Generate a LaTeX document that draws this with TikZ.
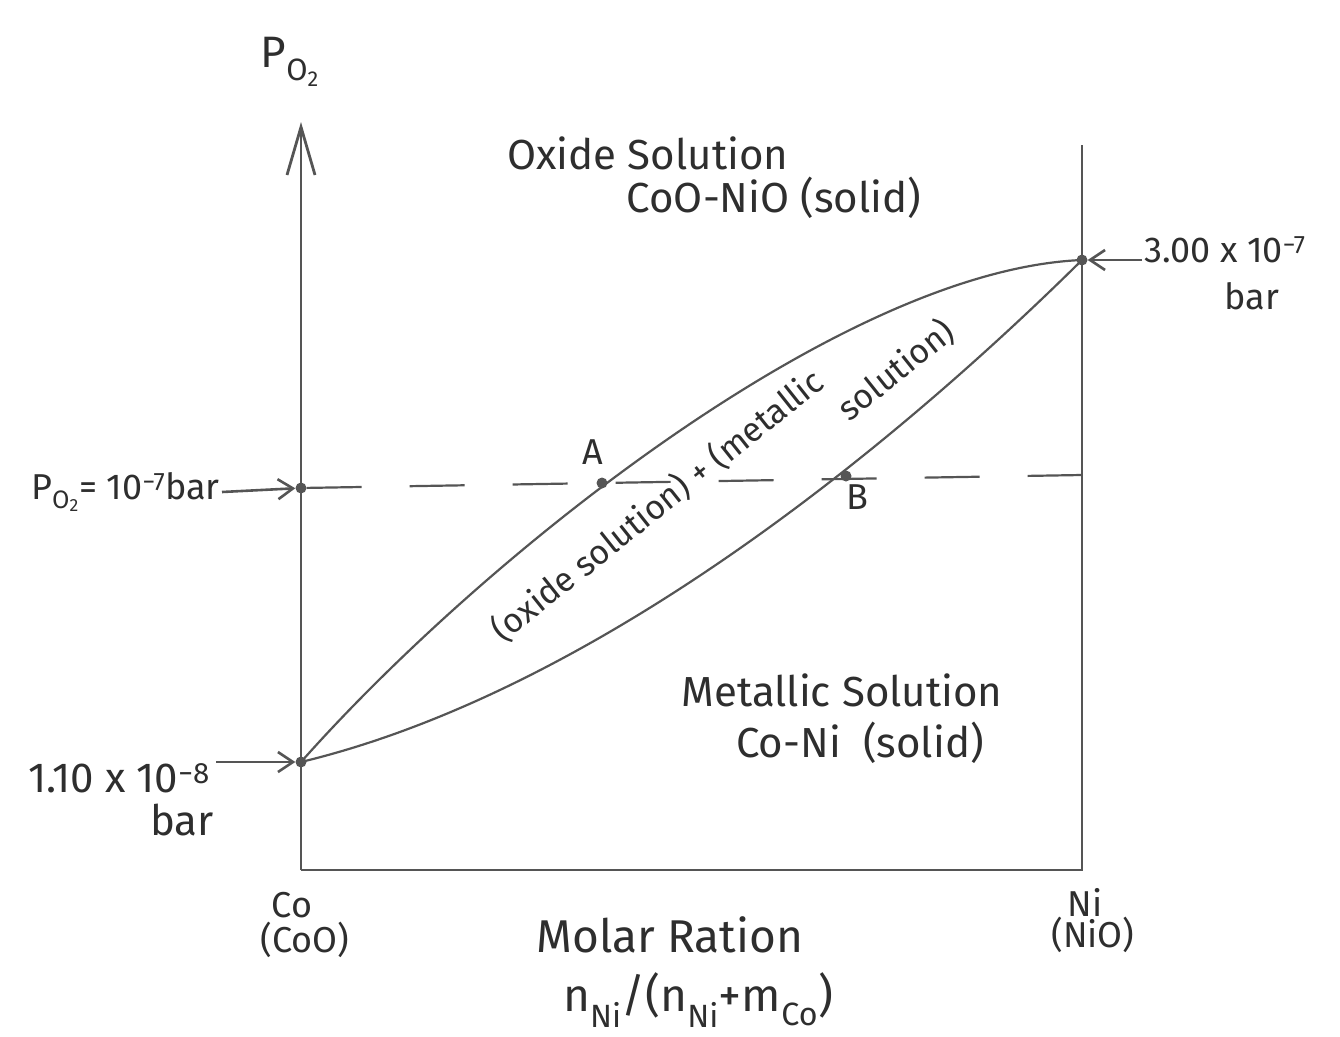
\documentclass[tikz,border=0pt]{standalone}
\usepackage{fontspec}
\setmainfont{Fira Sans}
\usetikzlibrary{arrows.meta, positioning}
\definecolor{pencil}{HTML}{555555}
\definecolor{lead}{HTML}{2E2E2E}
\tikzset{
  axisln/.style={draw=pencil, line width=2.8pt},
  curveln/.style={draw=pencil, line width=2.2pt},
  tieline/.style={draw=pencil, line width=2.2pt, dash pattern=on 55pt off 48pt},
  dotpt/.style={circle, fill=pencil, inner sep=0pt, minimum size=11pt},
  lbl/.style={text=lead, font=\fontsize{36}{40}\selectfont, inner sep=2pt, align=center},
  biglbl/.style={lbl, font=\fontsize{42}{46}\selectfont},
  smlbl/.style={lbl, font=\fontsize{34}{36}\selectfont},
  arr/.style={->, >={Straight Barb[length=15pt, width=20pt]}, line width=2.6pt, draw=pencil},
}

\begin{document}
\begin{tikzpicture}[x=1pt, y=-1pt]
  \useasboundingbox (0,0) rectangle (1340,1036);
  % frame and axes
  \coordinate (orig) at (301,870);
  \coordinate (ax top) at (301,122);
  \coordinate (rt top) at (1082,145);
  \coordinate (rt bot) at (1082,870);
  \draw[axisln, -{Straight Barb[length=48pt, width=28pt]}] (orig) -- (ax top);
  \draw[axisln] (rt top) -- (rt bot) -- (orig);
  % end points and tie line
  \node[dotpt] (lo) at (301,762) {};
  \node[dotpt] (hi) at (1082,260) {};
  \node[dotpt] (pO) at (301,488) {};
  \node[dotpt] (ptA) at (602,483) {};
  \node[dotpt] (ptB) at (846,476) {};
  \coordinate (tie end) at (1082,475);
  \draw[tieline] (pO) -- (tie end);
  % two phase lens
  \draw[curveln] (lo.center) .. controls (480,560) and (840,270) .. (hi.center);
  \draw[curveln] (lo.center) .. controls (600,690) and (900,440) .. (hi.center);
  % labels
  \node[lbl, font=\fontsize{44}{48}\selectfont] (pax) at (290,62) {P\textsubscript{O\textsubscript{2}}};
  \node[biglbl] (oxide) at (648,153) {Oxide Solution};
  \node[biglbl] (oxide2) at (774,198) {CoO-NiO (solid)};
  \node[biglbl] (metal) at (842,690) {Metallic Solution};
  \node[biglbl] (metal2) at (860,743) {Co-Ni \ (solid)};
  \node[smlbl, rotate=38.5, anchor=south west] (twophase) at (506,650) {(oxide solution) + (metallic};
  \node[smlbl, rotate=38.5] (twophase2) at (896,370) {solution)};
  \node[lbl] (lblA) at (593,452) {A};
  \node[lbl] (lblB) at (857,497) {B};
  % pressures
  \node[lbl, anchor=east] (pval) at (222,492) {P\textsubscript{O\textsubscript{2}}= 10\textsuperscript{−7}bar};
  \node[biglbl, anchor=east] (loval) at (212,778) {1.10 x 10\textsuperscript{−8}};
  \node[biglbl] (lobar) at (182,820) {bar};
  \node[lbl, anchor=west] (hival) at (1142,250) {3.00 x 10\textsuperscript{−7}};
  \node[lbl] (hibar) at (1252,296) {bar};
  \draw[arr] (pval.east) -- (pO);
  \draw[arr] (loval.east |- lo) ++(4,0) coordinate (lo tail) -- (lo);
  \draw[arr] (hival.west |- hi) coordinate (hi tail) -- (hi);
  % composition axis
  \node[lbl] (co) at (292,905) {Co};
  \node[lbl] (coo) at (305,940) {(CoO)};
  \node[lbl] (ni) at (1085,902) {Ni};
  \node[lbl] (nio) at (1093,935) {(NiO)};
  \node[biglbl, font=\fontsize{46}{50}\selectfont] (molar) at (670,935) {Molar Ration};
  \node[biglbl, font=\fontsize{46}{50}\selectfont] (ratio) at (698,1000) {n\textsubscript{Ni}/(n\textsubscript{Ni}+m\textsubscript{Co})};
\end{tikzpicture}
\end{document}
